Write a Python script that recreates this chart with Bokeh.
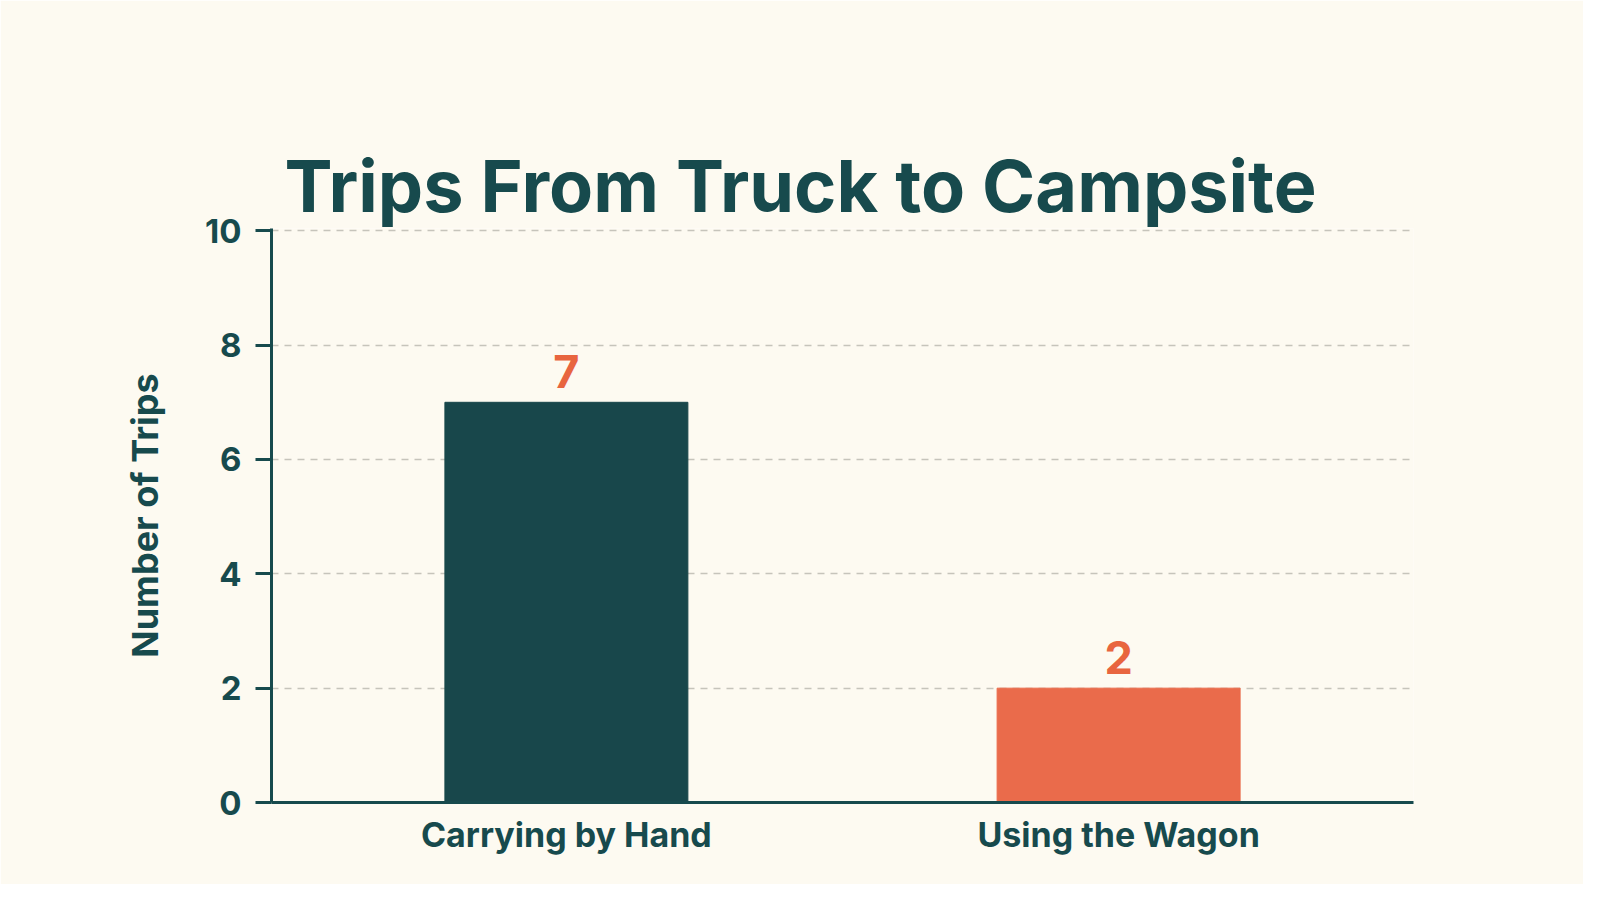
from bokeh.plotting import figure
from bokeh.models import (FactorRange, Range1d, Title, FixedTicker, ColumnDataSource,
                          LinearAxis)
from bokeh.core.properties import value
from bokeh.embed import file_html
from bokeh.resources import INLINE

title_text = "Trips From Truck to Campsite"
categories = ["Carrying by Hand", "Using the Wagon"]
trips = [7, 2]
bar_colors = ["#18474B", "#EA6B4B"]
y_ticks = [0, 2, 4, 6, 8, 10]

TEXT = "#174A4D"
BG = "#FDFAF1"
FONT = "Inter"

src = ColumnDataSource(dict(cat=categories, trips=trips, color=bar_colors,
                            lbl=[str(v) for v in trips]))

p = figure(width=1583, height=884, output_backend="svg", toolbar_location=None,
           x_range=FactorRange(factors=categories, range_padding=0.034,
                               range_padding_units="absolute"),
           y_range=Range1d(0, 10.04),
           min_border_left=271, min_border_right=170,
           min_border_top=228, min_border_bottom=82)
p.background_fill_color = BG
p.border_fill_color = BG
p.outline_line_color = None
p.title.text = ""

p.vbar(x="cat", top="trips", width=0.44, color="color", source=src)
p.text(x="cat", y="trips", text="lbl", source=src, y_offset=-31,
       text_align="center", text_baseline="middle",
       text_font=value(FONT), text_font_style="bold", text_font_size="45px",
       text_color="#E8653F")

# invisible spacer panel (no ticks, no lines) between the frame and the title
spacer = LinearAxis(ticker=FixedTicker(ticks=[]),
                    axis_line_color=None, major_tick_line_color=None,
                    minor_tick_line_color=None, major_tick_in=0, minor_tick_in=0,
                    minor_tick_out=0, major_tick_out=86, major_label_standoff=0)
p.add_layout(spacer, "above")

# visible chart title, stacked above the spacer
main_title = Title(text=title_text, align="left", offset=13, standoff=0,
                   text_font=FONT, text_font_style="bold",
                   text_font_size="72px", text_color=TEXT)
p.add_layout(main_title, "above")

# axes
p.yaxis.ticker = FixedTicker(ticks=y_ticks)
p.yaxis.axis_label = "Number of Trips"
p.yaxis.axis_label_text_font = FONT
p.yaxis.axis_label_text_font_style = "bold"
p.yaxis.axis_label_text_font_size = "36px"
p.yaxis.axis_label_text_color = TEXT
p.yaxis.axis_label_standoff = 35
p.yaxis.major_label_text_font = FONT
p.yaxis.major_label_text_font_style = "bold"
p.yaxis.major_label_text_font_size = "33px"
p.yaxis.major_label_text_color = TEXT
p.yaxis.major_label_standoff = 14
p.yaxis.major_tick_out = 16
p.yaxis.major_tick_in = 0
p.yaxis.minor_tick_line_color = None
p.yaxis.major_tick_line_color = TEXT
p.yaxis.major_tick_line_width = 3
p.yaxis.axis_line_color = TEXT
p.yaxis.axis_line_width = 3

p.below[0].major_tick_line_color = None
p.below[0].minor_tick_line_color = None
p.below[0].axis_line_color = TEXT
p.below[0].axis_line_width = 3
p.below[0].major_label_text_font = FONT
p.below[0].major_label_text_font_style = "bold"
p.below[0].major_label_text_font_size = "34px"
p.below[0].major_label_text_color = TEXT
p.below[0].major_label_standoff = 5

p.xgrid.grid_line_color = None
p.ygrid.grid_line_color = "#C6C4BB"
p.ygrid.grid_line_width = 1.5
p.ygrid.grid_line_dash = "7 6"

open("out.html", "w").write(file_html(p, INLINE))
